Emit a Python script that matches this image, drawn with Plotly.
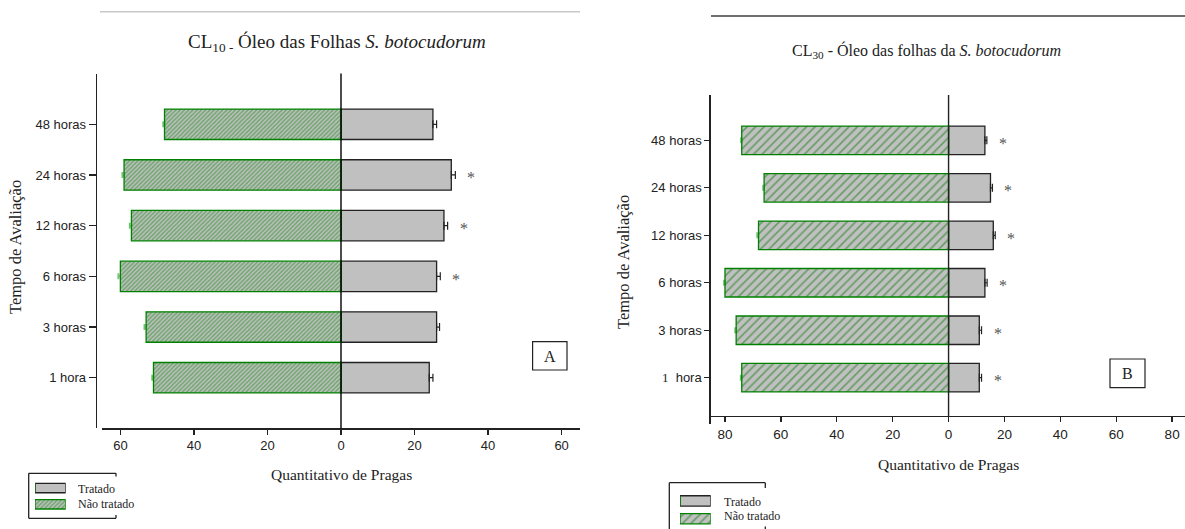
import plotly.graph_objects as go

# ---------------- data ----------------
categories = ["1 hora", "3 horas", "6 horas", "12 horas", "24 horas", "48 horas"]
x_ticks_A = [-60, -40, -20, 0, 20, 40, 60]
x_ticks_B = [-80, -60, -40, -20, 0, 20, 40, 60, 80]

treated_A = [24, 26, 26, 28, 30, 25]
treated_A_err = [1.0, 0.8, 1.0, 1.0, 1.1, 1.0]
untreated_A = [51, 53, 60, 57, 59, 48]
untreated_A_err = [0.4, 0.5, 0.6, 0.5, 0.5, 0.4]
sig_A = [False, False, True, True, True, False]

treated_B = [11, 11, 13, 16, 15, 13]
treated_B_err = [0.8, 0.8, 0.8, 0.7, 0.7, 0.7]
untreated_B = [74, 76, 80, 68, 66, 74]
untreated_B_err = [0.4, 0.4, 0.4, 0.5, 0.4, 0.3]
sig_B = [True, True, True, True, True, True]

legend_labels = ["Não tratado", "Tratado"]

# ---------------- helpers ----------------
W, H = 1185, 529
def px(x):
    return x / W
def py(y):
    return 1 - y / H

SERIF = "Liberation Serif"
SANS = "Liberation Sans"
GRAY = "#c0c0c0"
GREEN = "#008000"
INK = "#222222"
HATCH_A = dict(size=3, solidity=0.5, fgcolor="#1e8c1e")
HATCH_B = dict(size=6, solidity=0.3, fgcolor="#137a13")

fig = go.Figure()

def add_panel(xa, ya, treated, t_err, untreated, u_err, hatch):
    fig.add_trace(go.Bar(
        y=categories, x=treated, orientation="h", width=0.6,
        xaxis=xa, yaxis=ya, showlegend=False,
        marker=dict(color=GRAY, line=dict(color=INK, width=1.3)),
        error_x=dict(type="data", symmetric=False, array=t_err,
                     arrayminus=[0] * len(t_err), color=INK, thickness=1.2, width=4),
        name="Tratado",
    ))
    fig.add_trace(go.Bar(
        y=categories, x=[-v for v in untreated], orientation="h", width=0.6,
        xaxis=xa, yaxis=ya, showlegend=False,
        marker=dict(color=GRAY, line=dict(color=GREEN, width=1.3),
                    pattern=dict(shape="/", bgcolor=GRAY, **hatch)),
        error_x=dict(type="data", symmetric=False, array=[0] * len(u_err),
                     arrayminus=u_err, color="rgba(0,140,0,0.55)", thickness=1.5, width=3),
        name="Não tratado",
    ))

add_panel("x", "y", treated_A, treated_A_err, untreated_A, untreated_A_err, HATCH_A)
add_panel("x2", "y2", treated_B, treated_B_err, untreated_B, untreated_B_err, HATCH_B)

# legend swatches on tiny hidden axes
def add_swatches(xa, ya, hatch):
    fig.add_trace(go.Bar(
        y=legend_labels, x=[0, 1], orientation="h", width=0.58,
        xaxis=xa, yaxis=ya, showlegend=False, hoverinfo="skip", cliponaxis=False,
        marker=dict(color=GRAY, line=dict(color=INK, width=1.3)),
    ))
    fig.add_trace(go.Bar(
        y=legend_labels, x=[1, 0], orientation="h", width=0.58,
        xaxis=xa, yaxis=ya, showlegend=False, hoverinfo="skip", cliponaxis=False,
        marker=dict(color=GRAY, line=dict(color=GREEN, width=1.3),
                    pattern=dict(shape="/", bgcolor=GRAY, **hatch)),
    ))

add_swatches("x3", "y3", HATCH_A)
add_swatches("x4", "y4", HATCH_B)

axis_common = dict(showgrid=False, zeroline=False, showline=True, linecolor=INK,
                   linewidth=1.3, ticks="outside", tickcolor=INK, tickwidth=1.3,
                   tickfont=dict(family=SANS, size=13, color=INK), fixedrange=True)

labels_B = ['<span style="font-family:Liberation Serif">1</span>\u00a0 hora'] + categories[1:]

fig.update_layout(
    width=W, height=H, autosize=False,
    margin=dict(l=0, r=0, t=0, b=0, pad=0),
    paper_bgcolor="white", plot_bgcolor="rgba(0,0,0,0)",
    barmode="overlay", showlegend=False,
    xaxis=dict(axis_common, domain=[px(102), px(580)], range=[-65, 65], anchor="y",
               ticklen=5, tickvals=x_ticks_A, ticktext=[str(abs(v)) for v in x_ticks_A]),
    yaxis=dict(axis_common, domain=[py(428.4), py(73.6)], range=[-1, 6],
               type="category", categoryorder="array", categoryarray=categories,
               anchor="free", position=px(95.7), ticklen=7),
    xaxis2=dict(axis_common, domain=[px(711), 1.0], range=[-85, 84.6], anchor="free",
                position=py(416), ticklen=5, tickfont=dict(family=SANS, size=13.5, color=INK),
                tickvals=x_ticks_B, ticktext=[str(abs(v)) for v in x_ticks_B]),
    yaxis2=dict(axis_common, domain=[py(424), py(95)], range=[-0.975, 5.955],
                type="category", categoryorder="array", categoryarray=categories,
                tickvals=categories, ticktext=labels_B,
                anchor="free", position=px(709.3), ticklen=5),
    xaxis3=dict(visible=False, domain=[px(35), px(65.7)], range=[0, 1], anchor="y3", fixedrange=True),
    yaxis3=dict(visible=False, domain=[py(512.4), py(479.9)], range=[-0.5, 1.5], anchor="x3",
                type="category", categoryarray=legend_labels, fixedrange=True),
    xaxis4=dict(visible=False, domain=[px(680), px(710.7)], range=[0, 1], anchor="y4", fixedrange=True),
    yaxis4=dict(visible=False, domain=[py(527.6), py(492)], range=[-0.5, 1.5], anchor="x4",
                type="category", categoryarray=legend_labels, fixedrange=True),
)

shapes = []
# zero lines
shapes.append(dict(type="line", xref="x", x0=0, x1=0, yref="paper", y0=py(428.4), y1=py(73.6),
                   line=dict(color="black", width=1.4)))
shapes.append(dict(type="line", xref="x2", x0=0, x1=0, yref="paper", y0=py(416), y1=py(95),
                   line=dict(color="#222", width=1.4)))
# top rules
shapes.append(dict(type="line", xref="paper", yref="paper", x0=px(100), x1=px(580),
                   y0=py(11.7), y1=py(11.7), line=dict(color="#c8c8c8", width=1.5)))
shapes.append(dict(type="line", xref="paper", yref="paper", x0=px(711), x1=1.0,
                   y0=py(16), y1=py(16), line=dict(color="#707070", width=1.8)))
# panel letter boxes
shapes.append(dict(type="rect", xref="paper", yref="paper", x0=px(532.6), x1=px(567),
                   y0=py(370), y1=py(341.7), line=dict(color=INK, width=1.2)))
shapes.append(dict(type="rect", xref="paper", yref="paper", x0=px(1110), x1=px(1145),
                   y0=py(387.7), y1=py(359), line=dict(color=INK, width=1.2)))

def seg(x0, y0, x1, y1, w=1.3):
    shapes.append(dict(type="line", xref="paper", yref="paper", x0=px(x0), x1=px(x1),
                       y0=py(y0), y1=py(y1), line=dict(color=INK, width=w)))

# legend A box
seg(28.7, 473.3, 28.7, 518.3)
seg(28.7, 473.3, 116, 473.3)
seg(28.7, 518.3, 116, 518.3)
seg(116, 473.3, 116, 476.5)
seg(116, 515, 116, 518.3)
# legend B box
seg(669.3, 482.7, 669.3, 529)
seg(669.3, 482.7, 765.3, 482.7)
seg(765.3, 482.7, 765.3, 488)
seg(765.3, 526.5, 765.3, 529)

fig.update_layout(shapes=shapes)

ann = []
def text(x, y, s, size, family=SERIF, xanchor="center", angle=0, color=INK):
    ann.append(dict(xref="paper", yref="paper", x=px(x), y=py(y), text=s, showarrow=False,
                    xanchor=xanchor, yanchor="middle", textangle=angle,
                    font=dict(family=family, size=size, color=color)))

text(337, 43, "CL<sub>10 -</sub> Óleo das Folhas <i>S. botocudorum</i>", 19)
text(926, 51, "CL<sub>30</sub> - Óleo das folhas da <i>S. botocudorum</i>", 16)
text(15, 247, "Tempo de Avaliação", 16.5, angle=-90)
text(623, 262, "Tempo de Avaliação", 16.5, angle=-90)
text(341, 474, "Quantitativo de Pragas", 15.5)
text(948, 464, "Quantitativo de Pragas", 15.5)
text(549.8, 356, "A", 16)
text(1127.5, 373.5, "B", 16)
text(76, 489, "Tratado", 12, xanchor="left")
text(76, 504.3, "Não tratado", 12, xanchor="left")
text(721.7, 501.7, "Tratado", 12, xanchor="left")
text(721.7, 516, "Não tratado", 12, xanchor="left")

# significance asterisks
for xa, ya, vals, errs, sig in [("x", "y", treated_A, treated_A_err, sig_A),
                                ("x2", "y2", treated_B, treated_B_err, sig_B)]:
    for cat, v, e, s in zip(categories, vals, errs, sig):
        if s:
            ann.append(dict(xref=xa, yref=ya, x=v + e, y=cat, text="*", showarrow=False,
                            xanchor="center", yanchor="middle", xshift=16, yshift=-3,
                            font=dict(family=SERIF, size=16, color="#555")))

fig.update_layout(annotations=ann)

fig.write_html("out.html", config={"displayModeBar": False, "staticPlot": True},
               post_script="document.body.style.margin='0';document.body.style.overflow='hidden';")
